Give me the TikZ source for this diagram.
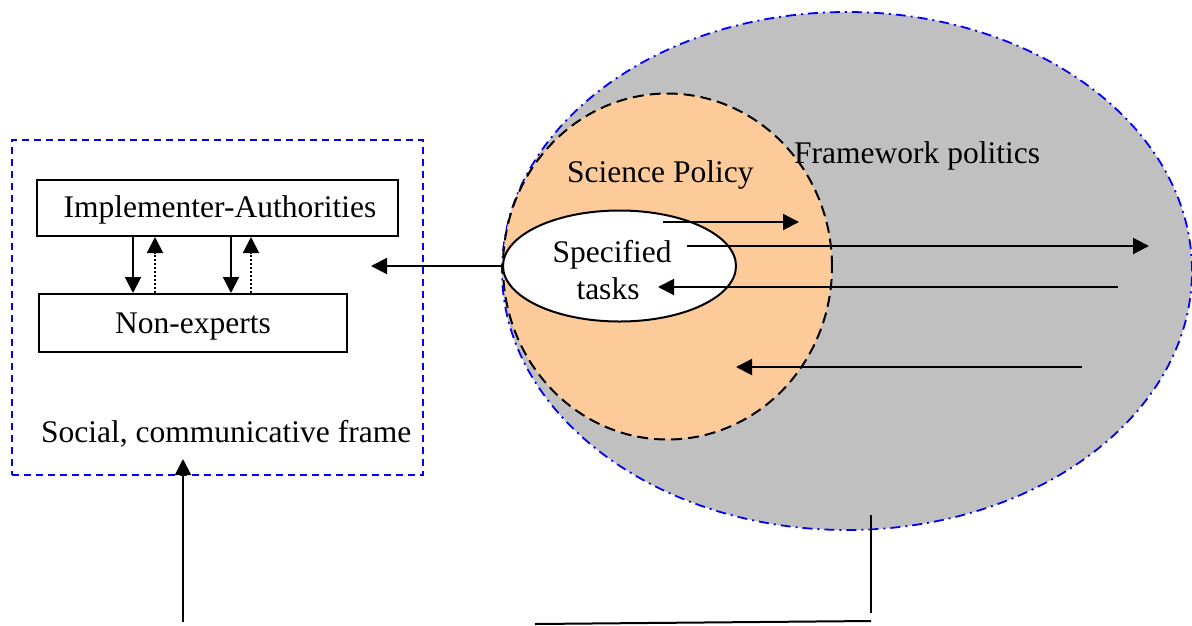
\documentclass[tikz,border=0pt]{standalone}
\usepackage{fontspec}
\setmainfont{Liberation Serif}
\usetikzlibrary{arrows.meta,shapes.geometric}
\definecolor{greyfill}{RGB}{192,192,192}
\definecolor{orangefill}{RGB}{252,203,153}
\definecolor{frameblue}{RGB}{0,0,255}
\tikzset{
  lbl/.style={font=\fontsize{31.5}{37}\selectfont, inner sep=0pt},
  box/.style={draw=black, line width=2pt, fill=white, inner sep=0pt},
  arr/.style={line width=2pt, -{Triangle[length=16pt,width=16pt]}},
  darr/.style={line width=2pt, dotted, -{Triangle[length=16pt,width=16pt]}},
  plain/.style={line width=2pt},
}
\begin{document}
\begin{tikzpicture}[x=1pt,y=-1pt]
\useasboundingbox (0,0) rectangle (1192,625);
% social frame
\node[draw=frameblue, line width=1.8pt, dash pattern=on 7pt off 5pt, minimum width=411pt, minimum height=335pt, inner sep=0pt] (frame) at (217.5,307.5) {};
% big ellipse
\node[ellipse, fill=greyfill, draw=frameblue, line width=1.8pt, dash pattern=on 10pt off 5pt on 2pt off 5pt, minimum width=690pt, minimum height=518pt, inner sep=0pt] (frm) at (847,271) {};
% science policy circle
\node[ellipse, fill=orangefill, draw=black, line width=2pt, dash pattern=on 11pt off 6pt, minimum width=329pt, minimum height=346pt, inner sep=0pt] (sci) at (667.5,266.5) {};
% specified tasks ellipse
\node[ellipse, fill=white, draw=black, line width=2pt, minimum width=233pt, minimum height=111pt, inner sep=0pt] (spec) at (619.5,266) {};
% texts
\node[lbl, anchor=base west] (tfrm) at (794,163) {Framework politics};
\node[lbl, anchor=base west] (tsci) at (567,182) {Science Policy};
\node[lbl, anchor=base] (tspec1) at (612,262) {Specified};
\node[lbl, anchor=base] (tspec2) at (608,299) {tasks};
\node[lbl, anchor=base west] (tsoc) at (41,442) {Social, communicative frame};
% boxes
\node[box, minimum width=361pt, minimum height=56pt] (impl) at (217,208) {};
\node[lbl, anchor=base] (timpl) at (220,217) {Implementer-Authorities};
\node[box, minimum width=308pt, minimum height=58pt] (non) at (193,323) {};
\node[lbl, anchor=base] (tnon) at (193,333) {Non-experts};
% arrows between boxes
\draw[arr] (impl.south -| 133,0) -- (non.north -| 133,0);
\draw[darr] (non.north -| 155,0) -- (impl.south -| 155,0);
\draw[arr] (impl.south -| 231,0) -- (non.north -| 231,0);
\draw[darr] (non.north -| 251,0) -- (impl.south -| 251,0);
% coordinates
\coordinate (a1s) at (663,222);
\coordinate (a1e) at (799,222);
\coordinate (a2s) at (687,246);
\coordinate (a2e) at (1149,246);
\coordinate (a3s) at (1118,287);
\coordinate (a3e) at (658,287);
\coordinate (a4s) at (1082,367);
\coordinate (a4e) at (736,367);
\coordinate (lefte) at (371,266);
\coordinate (botL) at (183,622);
\coordinate (botM) at (535,624);
\coordinate (botR) at (871,621);
\coordinate (topR) at (871,515);
\coordinate (botRv) at (871,613);
\coordinate (fbot) at (183,459);
% arrows in ellipse
\draw[arr] (a1s) -- (a1e);
\draw[arr] (a2s) -- (a2e);
\draw[arr] (a3s) -- (a3e);
\draw[arr] (a4s) -- (a4e);
\draw[arr] (spec.west) -- (lefte);
% bottom connection
\draw[arr] (botL) -- (fbot);
\draw[plain] (topR) -- (botRv);
\draw[plain] (botM) -- (botR);
\end{tikzpicture}
\end{document}
